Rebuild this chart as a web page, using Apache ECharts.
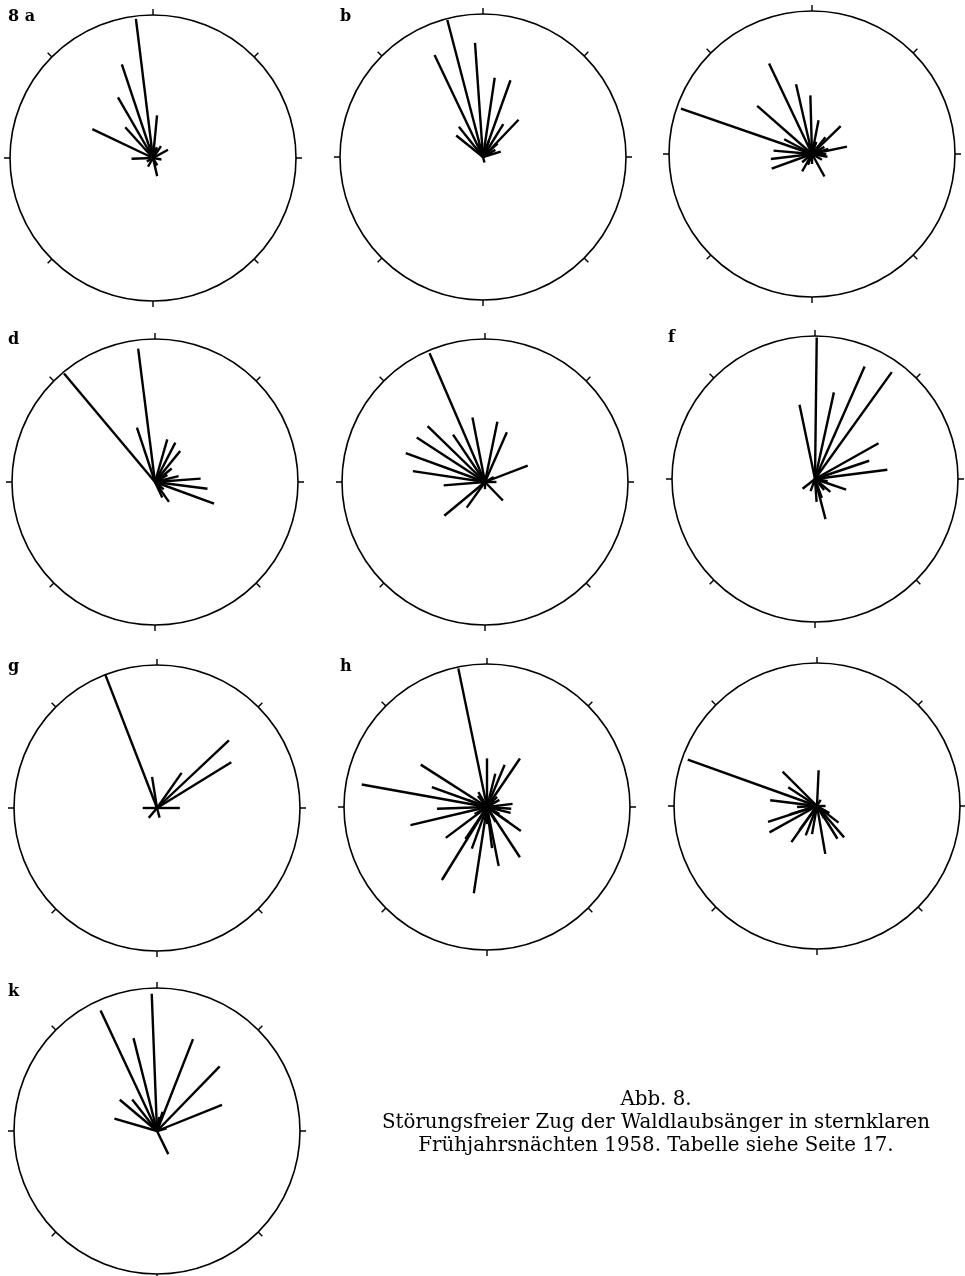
<!DOCTYPE html>
<html>
<head>
<meta charset="utf-8">
<style>
  html, body { margin: 0; padding: 0; background: #fff; }
  #chart { width: 965px; height: 1276px; }
</style>
<script src="https://cdn.jsdelivr.net/npm/echarts@6/dist/echarts.min.js"></script>
</head>
<body>
<div id="chart"></div>
<script>
// Flight directions per night: [bearing in degrees clockwise from north, relative length]
const raysA = [[353,0.98],[341.6,0.69],[330,0.49],[318,0.29],[295.5,0.47],[5.4,0.30],[34,0.10],[61,0.12],[268,0.15],[167,0.13],[210,0.07],[100,0.06],[20,0.08],[350,0.10],[150,0.06],[240,0.05]];
const raysB = [[345.4,0.99],[334.6,0.79],[356,0.80],[8.4,0.56],[19.7,0.57],[43.7,0.36],[31.7,0.27],[321.3,0.27],[308.7,0.24],[73,0.13],[47,0.14],[165,0.04],[60,0.10],[20,0.12],[340,0.10]];
const raysC = [[289.1,0.97],[334.6,0.70],[347.1,0.50],[358.4,0.41],[311.3,0.51],[11,0.24],[45.7,0.28],[78,0.25],[297.9,0.22],[275,0.27],[263,0.29],[250,0.30],[209.5,0.14],[151,0.18],[38.7,0.15],[73,0.12],[90,0.10],[120,0.08],[180,0.07],[200,0.08],[230,0.09],[20,0.09],[60,0.10],[100,0.11],[340,0.08],[300,0.06]];
const raysD = [[320,0.99],[352.8,0.94],[341.6,0.40],[16.1,0.31],[27.3,0.31],[39,0.28],[85.8,0.32],[97.3,0.37],[110.2,0.44],[76,0.17],[145,0.17],[155,0.12],[51,0.15],[60,0.10],[130,0.08]];
const raysE = [[336.7,0.98],[314.2,0.56],[303.1,0.57],[290.1,0.59],[278.6,0.51],[265.4,0.29],[326,0.40],[349,0.46],[11.6,0.43],[23.7,0.38],[69,0.32],[230.3,0.37],[215.5,0.22],[136,0.18],[90,0.08],[60,0.07],[180,0.05]];
const raysF = [[0.7,0.99],[23.8,0.86],[35.7,0.92],[12.3,0.62],[348.2,0.53],[60.6,0.51],[71.4,0.40],[82.7,0.51],[109,0.23],[165.3,0.29],[176,0.16],[160,0.14],[130,0.14],[232,0.11],[100,0.09],[140,0.10],[200,0.09],[30,0.08]];
const raysG = [[338.8,1.0],[46.8,0.69],[58.4,0.61],[35,0.30],[351,0.22],[90,0.16],[270,0.10],[220,0.09],[165,0.07]];
const raysH = [[348.3,0.99],[280.2,0.89],[302.6,0.55],[289.8,0.41],[268,0.35],[256.7,0.55],[233.2,0.36],[211.7,0.60],[188.7,0.61],[168.8,0.42],[146.8,0.42],[125.3,0.29],[34.2,0.41],[0,0.34],[22.7,0.32],[14,0.24],[83,0.18],[94,0.17],[104,0.17],[200,0.31],[214,0.27],[173,0.29],[125,0.18],[290,0.14],[45,0.10],[60,0.10],[120,0.10],[150,0.12],[180,0.12],[240,0.10],[320,0.10],[330,0.12]];
const raysI = [[289.7,0.96],[2.6,0.25],[315,0.34],[303,0.24],[277,0.33],[252,0.36],[241,0.38],[215.3,0.31],[170.2,0.34],[139.2,0.29],[148,0.27],[127.6,0.19],[201,0.22],[190,0.20],[216,0.21],[253,0.20],[267,0.14],[30,0.05],[90,0.06],[120,0.10],[150,0.10]];
const raysK = [[357.8,0.96],[334.9,0.93],[345.8,0.67],[21.4,0.69],[44.1,0.63],[68.1,0.49],[310,0.34],[321.7,0.28],[286.3,0.31],[154,0.18],[16,0.14],[9,0.10],[75,0.07]];

const panelLabels = ['8 a', 'b', '', 'd', '', 'f', 'g', 'h', '', 'k'];
const compassTicks = [0, 45, 90, 135, 180, 225, 270, 315];
const captionLines = [
  'Abb. 8.',
  'Störungsfreier Zug der Waldlaubsänger in sternklaren',
  'Frühjahrsnächten 1958. Tabelle siehe Seite 17.'
];

const panels = [raysA, raysB, raysC, raysD, raysE, raysF, raysG, raysH, raysI, raysK];

// Layout of the circular diagrams (pixel centres) and label positions
const centers = [
  [153, 158], [483, 157], [812, 154],
  [155, 482], [485, 482], [815, 479],
  [157, 808], [487, 807], [817, 806],
  [157, 1131]
];
const labelPos = [
  [8, 9], [340, 9], null,
  [8, 332], null, [668, 330],
  [8, 659], [340, 659], null,
  [8, 984]
];
const R = 143;

const polar = [], angleAxis = [], radiusAxis = [], series = [];
panels.forEach((rays, i) => {
  polar.push({ center: centers[i], radius: R });
  angleAxis.push({
    polarIndex: i, type: 'value', min: 0, max: 360,
    interval: compassTicks[1] - compassTicks[0],
    startAngle: 90, clockwise: true,
    axisLine: { show: true, lineStyle: { color: '#000', width: 1.6 } },
    axisTick: { show: true, inside: false, length: 6, lineStyle: { color: '#000', width: 1.4 } },
    axisLabel: { show: false },
    splitLine: { show: false }
  });
  radiusAxis.push({
    polarIndex: i, type: 'value', min: 0, max: 1,
    axisLine: { show: false }, axisTick: { show: false },
    axisLabel: { show: false }, splitLine: { show: false }
  });
  series.push({
    type: 'custom',
    coordinateSystem: 'polar',
    polarIndex: i,
    silent: true,
    data: rays.map(r => [r[1], r[0]]),
    renderItem: function (params, api) {
      const ang = api.value(1);
      const p0 = api.coord([0, ang]);
      const p1 = api.coord([api.value(0), ang]);
      return {
        type: 'line',
        shape: { x1: p0[0], y1: p0[1], x2: p1[0], y2: p1[1] },
        style: { stroke: '#000', lineWidth: 2.4, lineCap: 'butt' }
      };
    }
  });
});

const graphic = [];
panelLabels.forEach((t, i) => {
  if (!t || !labelPos[i]) return;
  graphic.push({
    type: 'text', left: labelPos[i][0], top: labelPos[i][1],
    style: { text: t, fill: '#000', font: 'bold 16px "DejaVu Serif", serif' }
  });
});
captionLines.forEach((t, j) => {
  graphic.push({
    type: 'text',
    x: 656, y: 1100 + j * 23,
    style: {
      text: t, fill: '#000', align: 'center', verticalAlign: 'middle',
      font: '19.8px "DejaVu Serif", serif'
    }
  });
});

const chart = echarts.init(document.getElementById('chart'), null, { renderer: 'canvas' });
chart.setOption({
  backgroundColor: '#fff',
  animation: false,
  polar, angleAxis, radiusAxis, series, graphic
});
</script>
</body>
</html>
